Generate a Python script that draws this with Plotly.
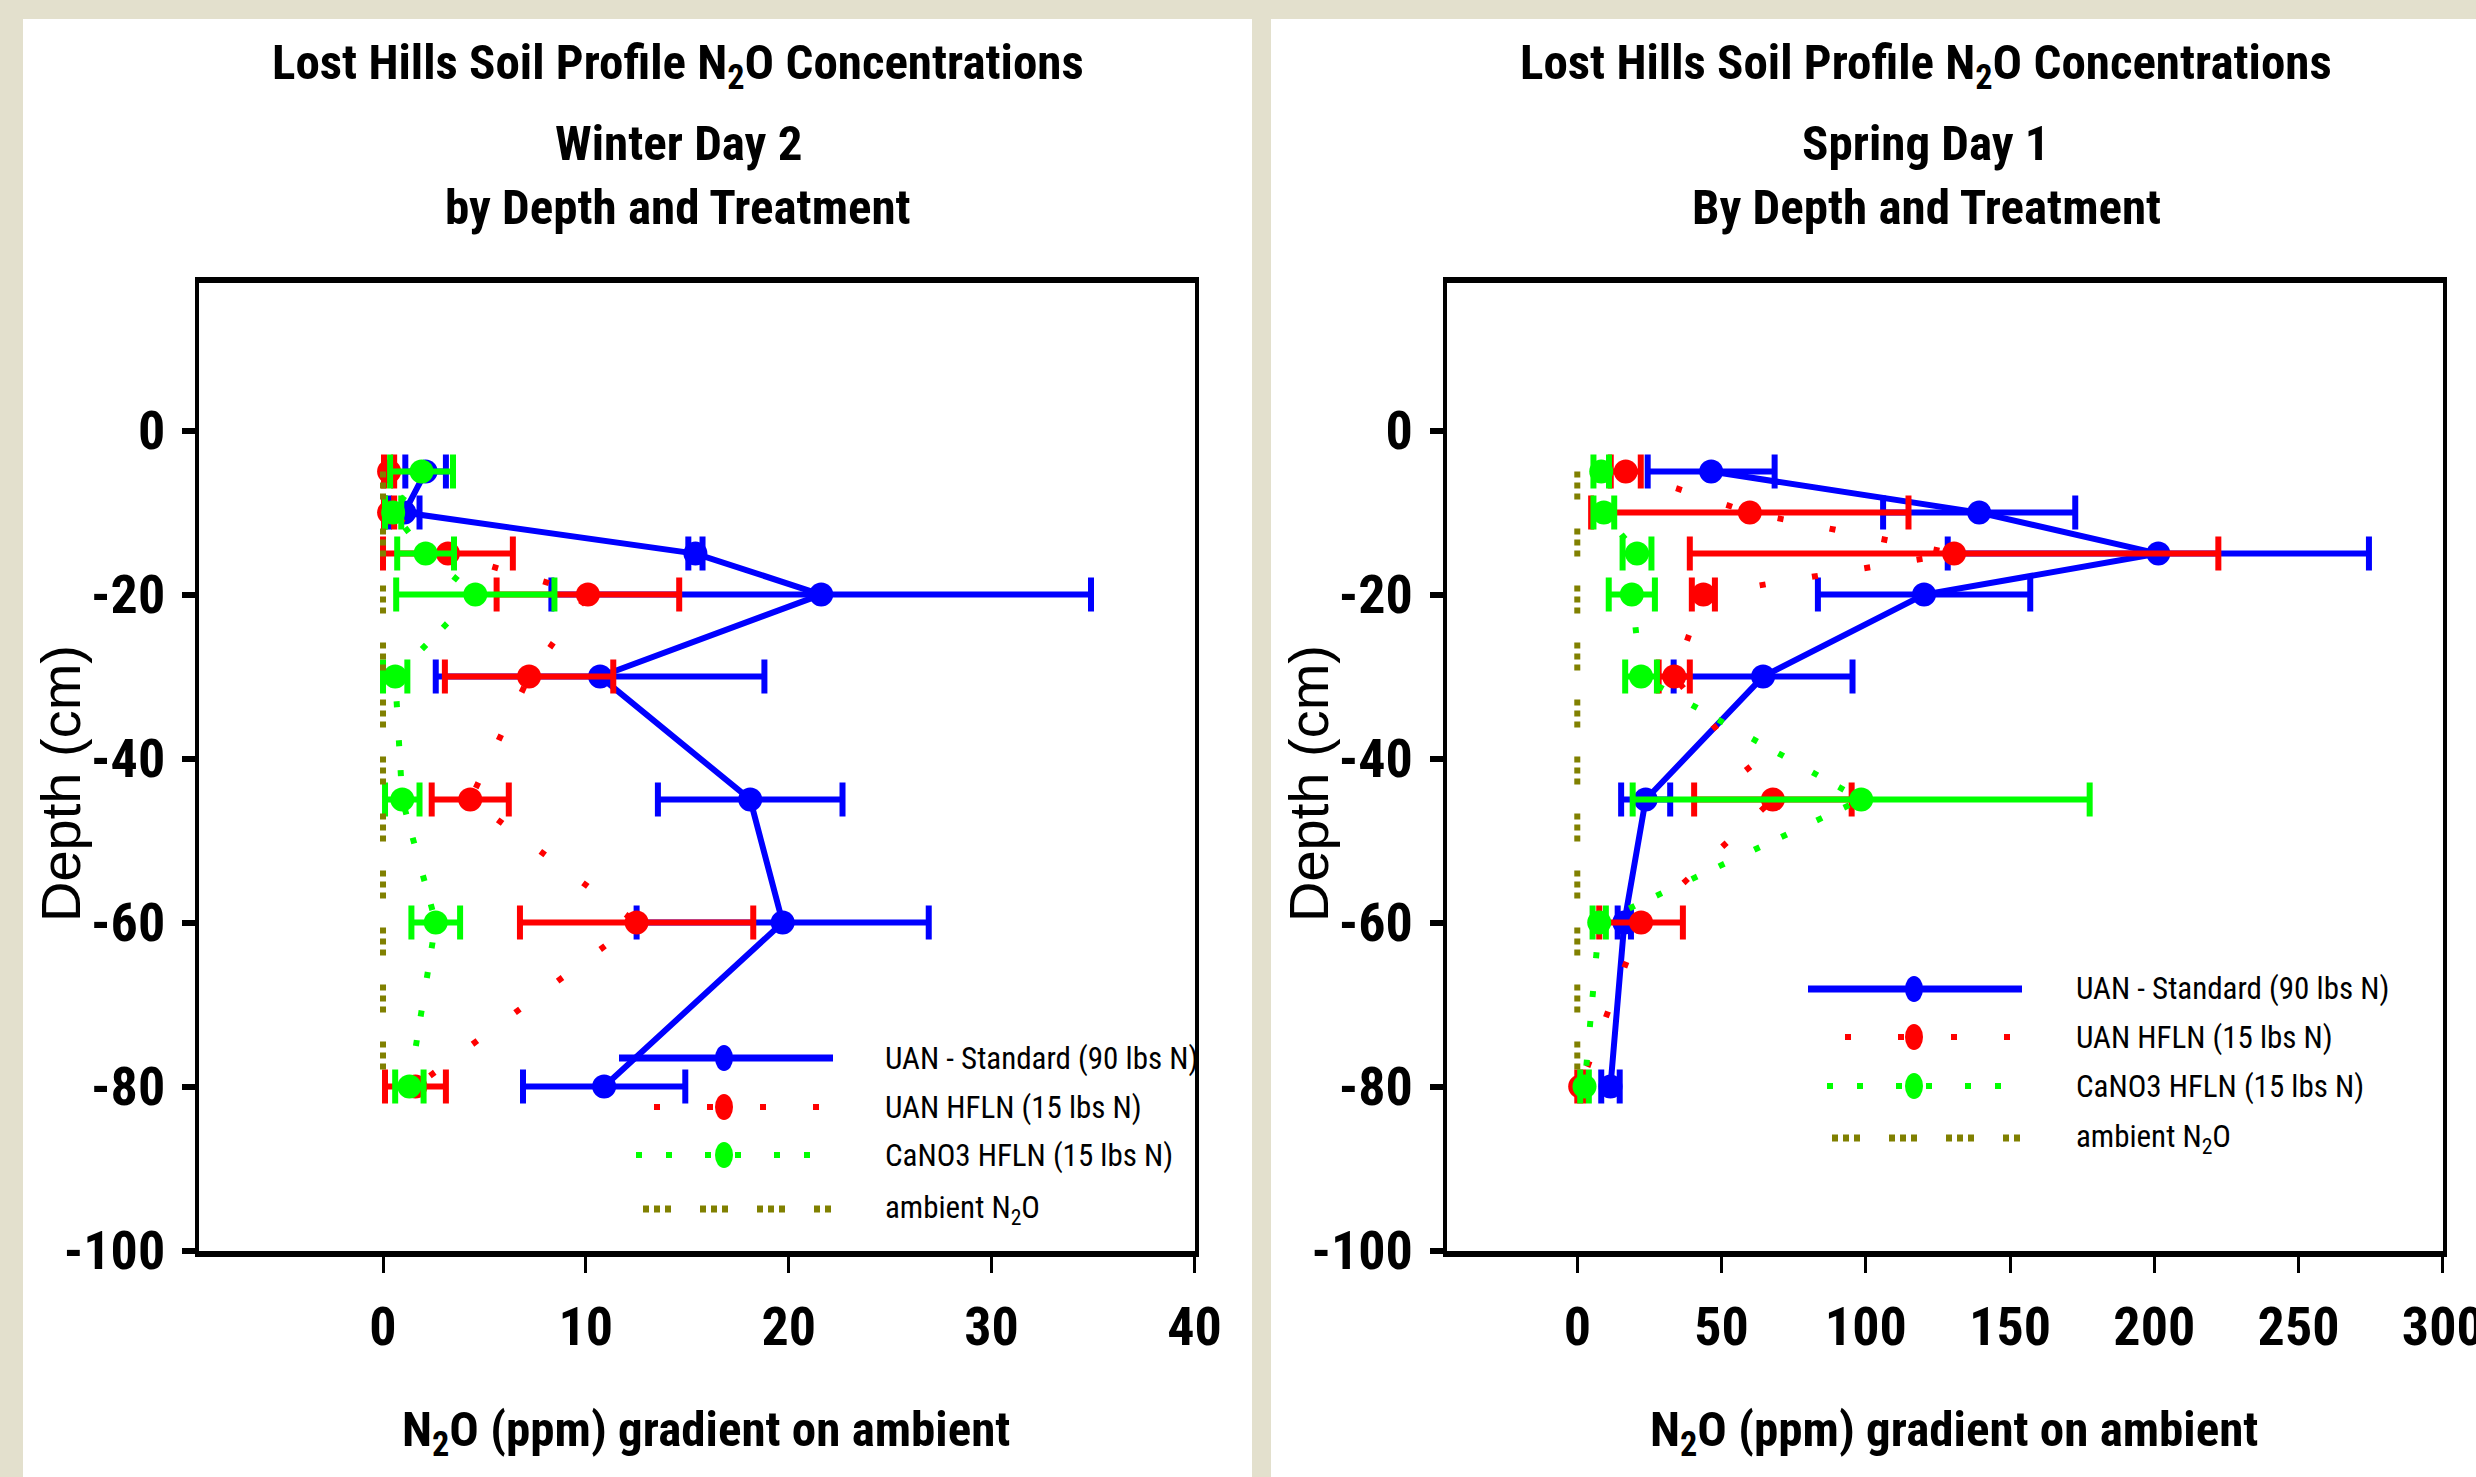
import plotly.graph_objects as go

# ---------------- data ----------------
depths = [-5, -10, -15, -20, -30, -45, -60, -80]

# Winter Day 2
uan_std_w = [2.1, 1.05, 15.4, 21.6, 10.7, 18.1, 19.7, 10.9]
uan_std_w_err = [1.0, 0.75, 0.35, 13.3, 8.1, 4.55, 7.2, 4.0]
uan_hfln_w = [0.3, 0.3, 3.2, 10.1, 7.2, 4.3, 12.5, 1.6]
uan_hfln_w_err = [0.25, 0.25, 3.2, 4.5, 4.15, 1.9, 5.75, 1.5]
cano3_w = [1.9, 0.5, 2.1, 4.55, 0.6, 0.95, 2.6, 1.3]
cano3_w_err = [1.55, 0.4, 1.4, 3.9, 0.6, 0.85, 1.2, 0.7]
ambient_w = [0, 0, 0, 0, 0, 0, 0, 0]

# Spring Day 1
uan_std_s = [46.4, 139.3, 201.4, 120.2, 64.4, 23.7, 16.3, 11.5]
uan_std_s_err = [22.0, 33.3, 73.0, 36.8, 31.0, 8.5, 2.3, 3.2]
uan_hfln_s = [16.8, 59.8, 130.6, 43.7, 33.6, 67.8, 22.1, 1.0]
uan_hfln_s_err = [5.2, 55.0, 91.6, 4.0, 5.4, 27.3, 14.5, 1.0]
cano3_s = [8.3, 9.2, 20.7, 18.9, 22.1, 98.4, 7.6, 2.5]
cano3_s_err = [2.7, 3.6, 5.0, 8.0, 5.5, 79.2, 2.3, 1.5]
ambient_s = [0, 0, 0, 0, 0, 0, 0, 0]

series_names = ["UAN - Standard (90 lbs N)", "UAN HFLN (15 lbs N)",
                "CaNO3 HFLN (15 lbs N)", "ambient N<sub>2</sub>O"]
panel_titles = [
    ["Lost Hills Soil Profile N<sub>2</sub>O Concentrations", "Winter Day 2", "by Depth and Treatment"],
    ["Lost Hills Soil Profile N<sub>2</sub>O Concentrations", "Spring Day 1", "By Depth and Treatment"],
]
x_ticks_w = [0, 10, 20, 30, 40]
x_ticks_s = [0, 50, 100, 150, 200, 250, 300]
y_ticks = [-100, -80, -60, -40, -20, 0]
x_title = "N<sub>2</sub>O (ppm) gradient on ambient"
y_title = "Depth (cm)"

# ---------------- styles ----------------
W, H = 2476, 1477
NARROW = "Roboto Condensed, Liberation Sans, sans-serif"
REG = "Liberation Sans, Arial, sans-serif"
BLUE, RED, GREEN, OLIVE = "#0000FF", "#FF0000", "#00FF00", "#808000"
BEIGE = "#E3E0CD"
RED_DASH = "6px,47px"
GREEN_DASH = "6px,24px,6px,33px"
OLIVE_DASH = "6px,5px,6px,5px,6px,29px"


def px(x):
    return x / W


def py(y):
    return 1 - y / H


fig = go.Figure()


def add_panel(xa, ya, std, std_e, hf, hf_e, ca, ca_e, amb):
    common = dict(xaxis=xa, yaxis=ya, showlegend=False)
    fig.add_trace(go.Scatter(
        x=std, y=depths, mode="lines+markers", name=series_names[0],
        line=dict(color=BLUE, width=6),
        marker=dict(color=BLUE, size=24, symbol="circle"),
        error_x=dict(type="data", array=std_e, color=BLUE, thickness=6, width=17),
        **common))
    fig.add_trace(go.Scatter(
        x=hf, y=depths, mode="lines+markers", name=series_names[1],
        line=dict(color=RED, width=6, dash=RED_DASH),
        marker=dict(color=RED, size=24, symbol="circle"),
        error_x=dict(type="data", array=hf_e, color=RED, thickness=6, width=17),
        **common))
    fig.add_trace(go.Scatter(
        x=ca, y=depths, mode="lines+markers", name=series_names[2],
        line=dict(color=GREEN, width=6, dash=GREEN_DASH),
        marker=dict(color=GREEN, size=24, symbol="circle"),
        error_x=dict(type="data", array=ca_e, color=GREEN, thickness=6, width=17),
        **common))
    fig.add_trace(go.Scatter(
        x=amb, y=depths, mode="lines", name=series_names[3],
        line=dict(color=OLIVE, width=6, dash=OLIVE_DASH),
        **common))


add_panel("x", "y", uan_std_w, uan_std_w_err, uan_hfln_w, uan_hfln_w_err,
          cano3_w, cano3_w_err, ambient_w)
add_panel("x2", "y2", uan_std_s, uan_std_s_err, uan_hfln_s, uan_hfln_s_err,
          cano3_s, cano3_s_err, ambient_s)

tickfont = dict(family=NARROW, size=54, color="black", weight="bold")


def xaxis_cfg(domain, rng, ticks):
    return dict(domain=domain, range=rng, tickvals=ticks, ticktext=[str(t) for t in ticks],
                ticks="outside", ticklen=16, tickwidth=3, tickcolor="black",
                showline=True, linewidth=6, linecolor="black", mirror=True,
                showgrid=False, zeroline=False, tickfont=tickfont,
                ticklabelstandoff=8, ticklabeloverflow="allow", automargin=False)


def yaxis_cfg(domain, anchor):
    return dict(domain=domain, range=[-100, 18], tickvals=y_ticks,
                ticktext=[str(t) for t in y_ticks], anchor=anchor,
                ticks="outside", ticklen=13, tickwidth=6, tickcolor="black",
                showline=True, linewidth=4, linecolor="black", mirror=True,
                showgrid=False, zeroline=False, tickfont=tickfont,
                ticklabelstandoff=6, ticklabeloverflow="allow", automargin=False)


ydom = [py(1250.5), py(283)]
fig.update_layout(
    width=W, height=H, margin=dict(l=0, r=0, t=0, b=0, pad=0), autosize=False,
    paper_bgcolor=BEIGE, plot_bgcolor="white", showlegend=False,
    xaxis=xaxis_cfg([px(199), px(1194.5)], [-9.07, 40], x_ticks_w) | dict(anchor="y"),
    yaxis=yaxis_cfg(ydom, "x"),
    xaxis2=xaxis_cfg([px(1446.6), px(2442.8)], [-45.3, 300], x_ticks_s) | dict(anchor="y2"),
    yaxis2=yaxis_cfg(ydom, "x2"),
)

shapes = []
annotations = []
# white panels
for x0, x1 in [(23, 1252), (1271, W)]:
    shapes.append(dict(type="rect", xref="paper", yref="paper", layer="below",
                       x0=px(x0), x1=px(x1), y0=0, y1=py(19),
                       fillcolor="white", line=dict(width=0)))

# titles
for offs, cx, lines in [(0, 678, panel_titles[0]), (1248, 1926, panel_titles[1])]:
    for txt, cy in zip(lines, [66, 144, 207.5]):
        annotations.append(dict(text=txt, x=px(cx), y=py(cy), xref="paper", yref="paper",
                                xanchor="center", yanchor="middle", showarrow=False,
                                font=dict(family=NARROW, size=49, color="black", weight="bold")))
    # axis titles
    annotations.append(dict(text=x_title, x=px(706 + offs), y=py(1432), xref="paper", yref="paper",
                            xanchor="center", yanchor="middle", showarrow=False,
                            font=dict(family=NARROW, size=49, color="black", weight="bold")))
    annotations.append(dict(text=y_title, x=px(60 + offs), y=py(784), xref="paper", yref="paper",
                            xanchor="center", yanchor="middle", showarrow=False, textangle=-90,
                            font=dict(family=REG, size=56, color="black")))


# legends
def add_legend(x0, x1, xm, ys, xtext, starts):
    styles = [(BLUE, 7, "solid", True), (RED, 6, RED_DASH, True),
              (GREEN, 6, GREEN_DASH, True), (OLIVE, 7, OLIVE_DASH, False)]
    for (col, w, dash, mk), yy, st, name in zip(styles, ys, starts, series_names):
        shapes.append(dict(type="line", xref="paper", yref="paper",
                           x0=px(st), x1=px(x1), y0=py(yy), y1=py(yy),
                           line=dict(color=col, width=w, dash=dash)))
        if mk:
            shapes.append(dict(type="circle", xref="paper", yref="paper",
                               x0=px(xm - 9), x1=px(xm + 9), y0=py(yy + 13), y1=py(yy - 13),
                               fillcolor=col, line=dict(width=0)))
        annotations.append(dict(text=name, x=px(xtext), y=py(yy), xref="paper", yref="paper",
                                xanchor="left", yanchor="middle", showarrow=False,
                                font=dict(family=NARROW, size=31, color="black")))


add_legend(619, 833, 724, [1058, 1107, 1155, 1209], 883, [619, 654, 636, 643])
add_legend(1808, 2022, 1914, [989, 1037, 1086, 1138], 2074, [1808, 1845, 1827, 1832])

fig.update_layout(shapes=shapes, annotations=annotations)
fig.write_html("out.html")
